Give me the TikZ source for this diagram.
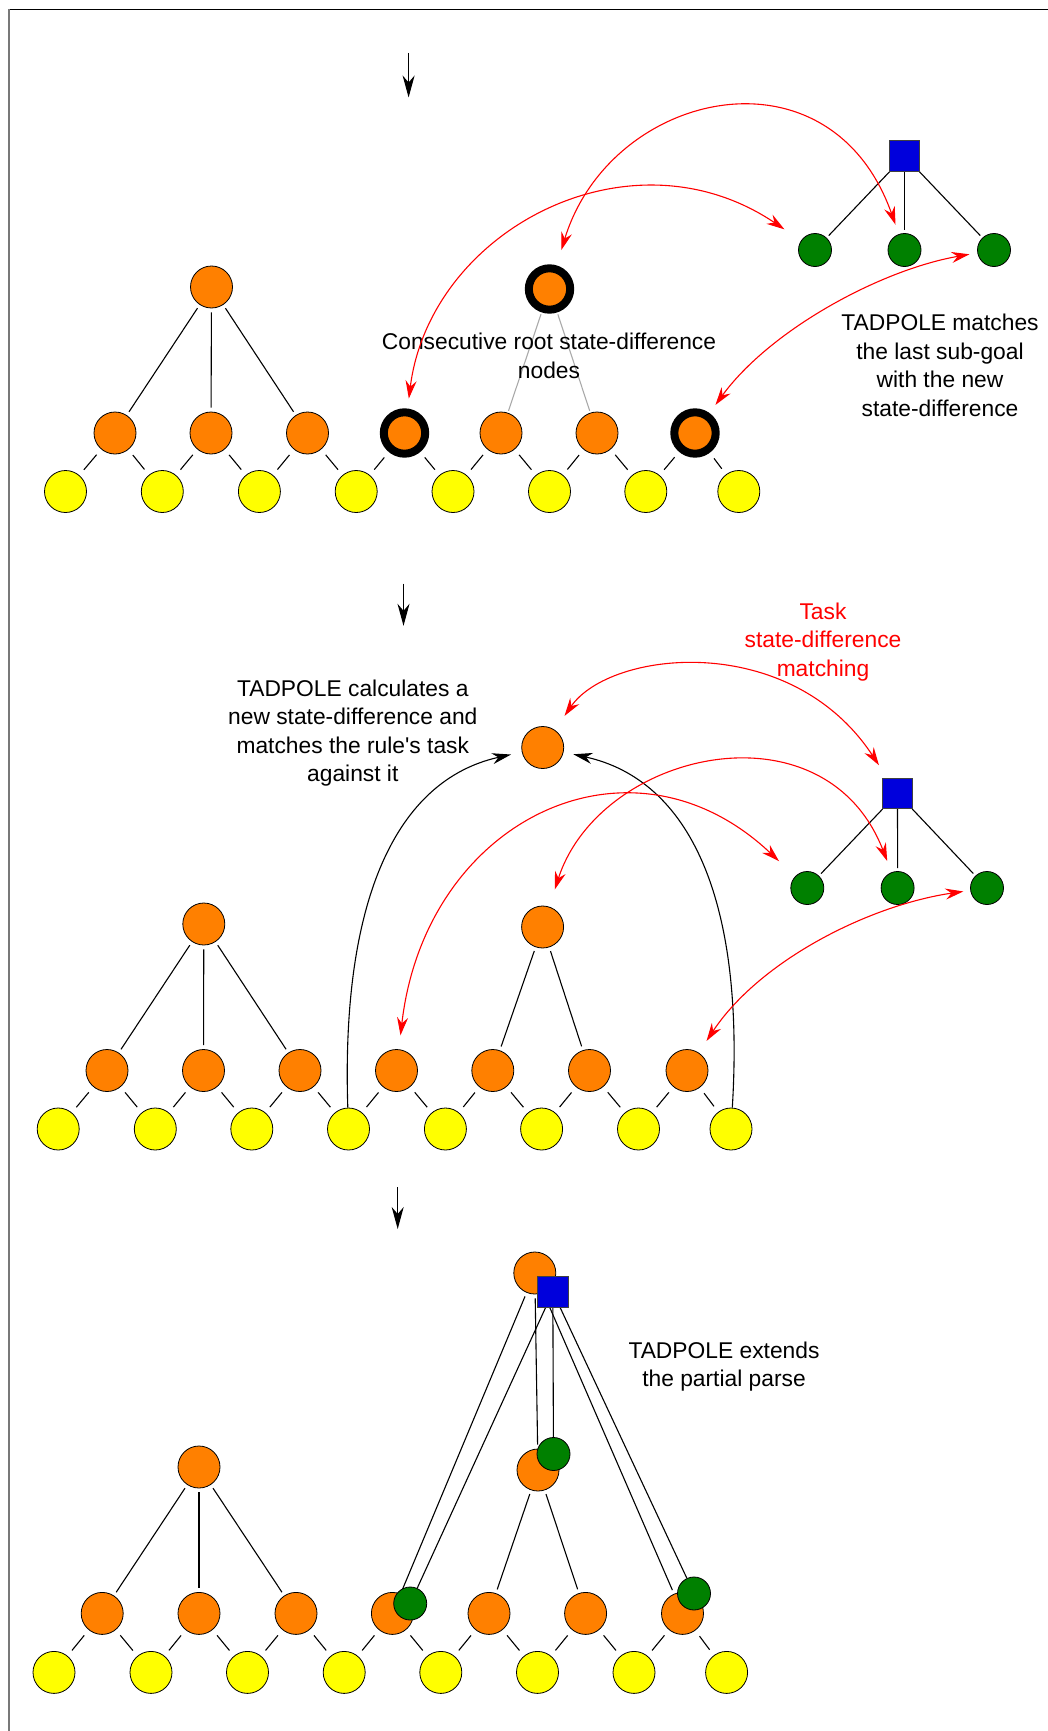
\documentclass[tikz,border=0pt]{standalone}
\usepackage{fontspec}
\setmainfont{Liberation Sans}
\usetikzlibrary{arrows.meta,backgrounds}

\definecolor{sdorange}{RGB}{255,128,0}
\definecolor{sdyellow}{RGB}{255,255,0}
\definecolor{sdgreen}{RGB}{0,128,0}
\definecolor{sdblue}{RGB}{0,0,220}
\definecolor{sdred}{RGB}{255,0,0}
\definecolor{sdgrey}{RGB}{170,170,170}
\definecolor{framegrey}{RGB}{120,120,120}

\tikzset{
  disc/.style={circle, draw=black, line width=0.8pt, inner sep=0pt, minimum size=42pt},
  onode/.style={disc, fill=sdorange},
  ynode/.style={disc, fill=sdyellow},
  gnode/.style={disc, fill=sdgreen, minimum size=33pt},
  ringnode/.style={disc, fill=sdorange, line width=8pt, minimum size=41.4pt},
  sqnode/.style={rectangle, draw=black!75, line width=0.8pt, fill=sdblue, minimum size=30.5pt, inner sep=0pt},
  treeedge/.style={draw=black, line width=1.1pt, shorten <=4pt, shorten >=4pt},
  shortedge/.style={draw=black, line width=1.1pt, shorten <=7pt, shorten >=7pt},
  greyedge/.style={draw=sdgrey, line width=1.1pt, shorten <=2pt, shorten >=2pt},
  tip/.style={Stealth[length=18pt, width=11pt, inset=6pt]},
  matcharrow/.style={draw=sdred, line width=1.1pt, {Stealth[length=18pt, width=11pt, inset=6pt]}-{Stealth[length=18pt, width=11pt, inset=6pt]}},
  calcarrow/.style={draw=black, line width=1.1pt, -{Stealth[length=19pt, width=11pt, inset=6pt]}},
  stagearrow/.style={draw=black, line width=1.1pt, -{Stealth[length=22pt, width=12pt, inset=7pt]}},
  txt/.style={font=\fontsize{22.8}{28.6}\selectfont, align=center, inner sep=0pt},
}

\begin{document}
\begin{tikzpicture}[x=1pt,y=1pt]
\useasboundingbox (0,0) rectangle (1048,-1731);

% outer frame (top and left edges)
\draw[black, line width=1.3pt] (8,-9.6) -- (1048,-9.6);
\draw[framegrey, line width=2pt] (9,-9) -- (9,-1731);

% ---------------- stage 1 ----------------
\coordinate (s1a) at (408.6,-53);
\coordinate (s1b) at (408.6,-97.5);
\draw[stagearrow] (s1a) -- (s1b);

\foreach \x [count=\i] in {65.5,162.3,259.4,356.2,453,549.5,645.8,738.8}
  \node[ynode] (aY\i) at (\x,-491.5) {};
\foreach \x/\s [count=\i] in {115/onode,211/onode,307.5/onode,404.5/ringnode,501/onode,597/onode,695/ringnode}
  \node[\s] (aO\i) at (\x,-433) {};
\node[onode] (aR) at (211.5,-287) {};
\node[ringnode] (aB) at (549.5,-289) {};
\node[sqnode] (aS) at (904.5,-156) {};
\foreach \x [count=\i] in {815,904.5,994}
  \node[gnode] (aG\i) at (\x,-250) {};

\begin{pgfonlayer}{background}
  \foreach \i in {1,...,7} {
    \pgfmathtruncatemacro{\j}{\i+1}
    \draw[shortedge] (aO\i) -- (aY\i);
    \draw[shortedge] (aO\i) -- (aY\j);
  }
  \foreach \i in {1,2,3} \draw[treeedge] (aR) -- (aO\i);
  \draw[greyedge] (aB) -- (aO5);
  \draw[greyedge] (aB) -- (aO6);
  \foreach \i in {1,2,3} \draw[line width=1.1pt, shorten >=3pt] (aS) -- (aG\i);
\end{pgfonlayer}

\node[txt] (t1) at (549,-355.9) {Consecutive root state-difference\\nodes};
\node[txt] (t2) at (940,-365.4) {TADPOLE matches\\the last sub-goal\\with the new\\state-difference};

\draw[matcharrow, shorten <=10pt, shorten >=20pt] (aO4) .. controls (430,-230) and (630,-125) .. (aG1);
\draw[matcharrow, shorten <=16pt, shorten >=10pt] (aB) .. controls (610,-90) and (830,-40) .. (aG2);
\draw[matcharrow, shorten <=10pt, shorten >=8pt] (aO7) .. controls (770,-330) and (880,-270) .. (aG3);

% ---------------- stage 2 ----------------
\coordinate (s2a) at (403.5,-583.7);
\coordinate (s2b) at (403.5,-625.8);
\draw[stagearrow] (s2a) -- (s2b);

\foreach \x [count=\i] in {58.2,155.3,251.8,348.5,445.4,541.6,638.5,731}
  \node[ynode] (bY\i) at (\x,-1129) {};
\foreach \x [count=\i] in {107,203.5,300,396.5,492.8,589.5,687}
  \node[onode] (bO\i) at (\x,-1070.5) {};
\node[onode] (bR) at (203.8,-924) {};
\node[onode] (bT) at (542.6,-927) {};
\node[onode] (bL) at (542.7,-747.5) {};
\node[sqnode] (bS) at (897.5,-793.4) {};
\foreach \x [count=\i] in {807.3,897.6,987}
  \node[gnode] (bG\i) at (\x,-888) {};

\begin{pgfonlayer}{background}
  \foreach \i in {1,...,7} {
    \pgfmathtruncatemacro{\j}{\i+1}
    \draw[shortedge] (bO\i) -- (bY\i);
    \draw[shortedge] (bO\i) -- (bY\j);
  }
  \foreach \i in {1,2,3} \draw[treeedge] (bR) -- (bO\i);
  \draw[treeedge] (bT) -- (bO5);
  \draw[treeedge] (bT) -- (bO6);
  \foreach \i in {1,2,3} \draw[line width=1.1pt, shorten >=3pt] (bS) -- (bG\i);
\end{pgfonlayer}

\node[txt, text=sdred] (t3) at (823,-642) {Task\\state-difference\\matching};
\node[txt] (t4) at (352.8,-733) {TADPOLE calculates a\\new state-difference and\\matches the rule\textquotesingle s task\\against it};

\draw[calcarrow, shorten >=11pt] (bY4) .. controls (341,-900) and (396,-780) .. (bL);
\draw[calcarrow, shorten >=10pt] (bY8) .. controls (745,-900) and (690,-780) .. (bL);

\draw[matcharrow, shorten <=17pt, shorten >=15pt] (bL) .. controls (610,-650) and (790,-630) .. (bS);
\draw[matcharrow, shorten <=14pt, shorten >=22pt] (bO4) .. controls (425,-820) and (630,-720) .. (bG1);
\draw[matcharrow, shorten <=18pt, shorten >=12pt] (bT) .. controls (600,-750) and (825,-700) .. (bG2);
\draw[matcharrow, shorten <=14pt, shorten >=7pt] (bO7) .. controls (760,-960) and (870,-905) .. (bG3);

% ---------------- stage 3 ----------------
\coordinate (s3a) at (397.7,-1187.3);
\coordinate (s3b) at (397.7,-1229);
\draw[stagearrow] (s3a) -- (s3b);

\foreach \x [count=\i] in {54,151,247.5,344.2,440.8,537.5,634,726.6}
  \node[ynode] (cY\i) at (\x,-1672.4) {};
\foreach \x [count=\i] in {102.2,199,296,392.4,489,585.6,682.5}
  \node[onode] (cO\i) at (\x,-1613.4) {};
\node[onode] (cR) at (199,-1467) {};
\node[onode] (cT) at (538,-1470) {};
\node[onode] (cTop) at (534.8,-1273) {};
\node[sqnode] (cS) at (552.8,-1291.8) {};
\node[gnode] (cG4) at (410.2,-1603.5) {};
\node[gnode] (cGR) at (553.5,-1454) {};
\node[gnode] (cG7) at (694,-1593.5) {};

\begin{pgfonlayer}{background}
  \foreach \i in {1,...,7} {
    \pgfmathtruncatemacro{\j}{\i+1}
    \draw[shortedge] (cO\i) -- (cY\i);
    \draw[shortedge] (cO\i) -- (cY\j);
  }
  \foreach \i in {1,2,3} \draw[treeedge] (cR) -- (cO\i);
  \draw[treeedge] (cT) -- (cO5);
  \draw[treeedge] (cT) -- (cO6);
  \draw[treeedge] (cTop) -- (cO4);
  \draw[treeedge] (cTop) -- (cT);
  \draw[treeedge] (cTop) -- (cO7);
  \draw[line width=1.1pt] (cS) -- (cG4);
  \draw[line width=1.1pt] (cS) -- (cGR);
  \draw[line width=1.1pt] (cS) -- (cG7);
\end{pgfonlayer}

\node[txt] (t5) at (724,-1366.4) {TADPOLE extends\\the partial parse};

\end{tikzpicture}
\end{document}
